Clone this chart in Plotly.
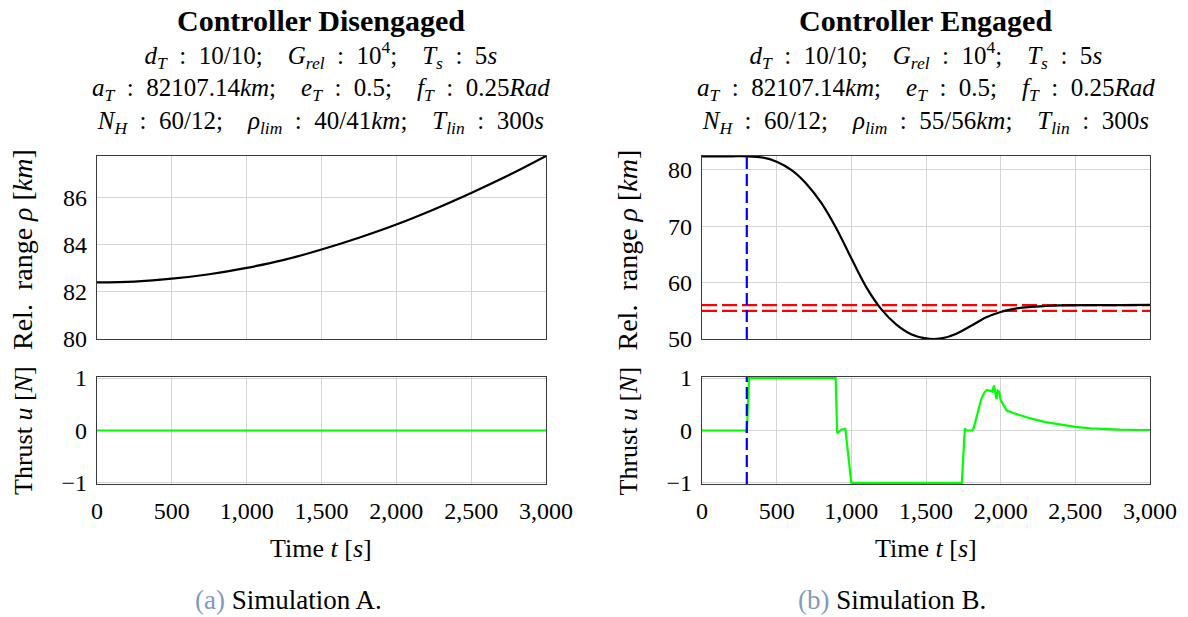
import plotly.graph_objects as go

# ---------------- data ----------------
t_lim = [0, 3000]
x_ticks = [0, 500, 1000, 1500, 2000, 2500, 3000]

# Simulation A (controller disengaged)
t_a = [0, 250, 500, 750, 1000, 1250, 1500, 1750, 2000, 2250, 2500, 2750, 3000]
rho_a = [82.40, 82.44, 82.56, 82.75, 83.02, 83.36, 83.80, 84.30, 84.86, 85.50, 86.20, 86.95, 87.77]
t_ua = [0, 3000]
u_a = [0.0, 0.0]

# Simulation B (controller engaged)
t_b = [0, 100, 200, 300, 400, 500, 600, 700, 800, 900, 1000, 1100, 1200, 1300, 1400,
       1500, 1600, 1700, 1800, 1900, 2000, 2100, 2200, 2300, 2400, 2600, 2800, 3000]
rho_b = [82.40, 82.40, 82.40, 82.40, 82.20, 81.45, 79.95, 77.50, 74.10, 69.60, 64.30,
         59.20, 55.30, 52.60, 50.85, 50.10, 50.10, 50.90, 52.30, 53.80, 54.80, 55.40,
         55.70, 55.85, 55.95, 56.00, 56.02, 56.05]
t_ub = [0, 290, 300, 315, 895, 905, 915, 925, 935, 960, 1000, 1740, 1760, 1770, 1810,
        1820, 1850, 1870, 1890, 1905, 1930, 1945, 1955, 1965, 1972, 1980, 1990, 2000,
        2020, 2040, 2100, 2200, 2300, 2400, 2500, 2600, 2700, 2800, 2900, 3000]
u_b = [0, 0, -0.04, 1, 1, -0.05, -0.03, 0.0, 0.02, 0.03, -1, -1, 0.04, 0.0, 0.0,
       0.05, 0.40, 0.60, 0.72, 0.77, 0.76, 0.74, 0.86, 0.70, 0.60, 0.76, 0.74, 0.58,
       0.48, 0.38, 0.32, 0.23, 0.16, 0.11, 0.07, 0.04, 0.025, 0.015, 0.01, 0.01]
t_lin_b = 300
rho_lim_b = [55, 56]

rho_range_a = [80, 87.77]
rho_range_b = [50, 82.45]
u_range = [-1.02, 1.02]
rho_ticks_a = [80, 82, 84, 86]
rho_ticks_b = [50, 60, 70, 80]
u_ticks = [-1, 0, 1]

# ---------------- style ----------------
W, H = 1188, 617
FONT = "Liberation Serif"
FS = 24
GRID = "#d4d4d4"
LINE = "#3a3a3a"
EN = "\u2002"
EM = "\u2003"


def px(x):
    return x / W


def py(y):
    return 1 - y / H


fig = go.Figure()

# A top
fig.add_trace(go.Scatter(x=t_a, y=rho_a, mode="lines", xaxis="x", yaxis="y",
                         line=dict(color="black", width=2.2, shape="spline")))
# A bottom
fig.add_trace(go.Scatter(x=t_ua, y=u_a, mode="lines", xaxis="x2", yaxis="y2",
                         line=dict(color="#00ff00", width=2.2)))
# B top
for lim in rho_lim_b:
    fig.add_trace(go.Scatter(x=t_lim, y=[lim, lim], mode="lines", xaxis="x3", yaxis="y3",
                             line=dict(color="#ff0000", width=2.2, dash="15px,5px")))
fig.add_trace(go.Scatter(x=t_b, y=rho_b, mode="lines", xaxis="x3", yaxis="y3",
                         line=dict(color="black", width=2.2, shape="spline", smoothing=0.9)))
fig.add_trace(go.Scatter(x=[t_lin_b, t_lin_b], y=rho_range_b, mode="lines", xaxis="x3", yaxis="y3",
                         line=dict(color="#0000ff", width=2.2, dash="12px,5px")))
# B bottom
fig.add_trace(go.Scatter(x=t_ub, y=u_b, mode="lines", xaxis="x4", yaxis="y4",
                         line=dict(color="#00ff00", width=2.2)))
fig.add_trace(go.Scatter(x=[t_lin_b, t_lin_b], y=u_range, mode="lines", xaxis="x4", yaxis="y4",
                         line=dict(color="#0000ff", width=2.2, dash="12px,5px")))

xa = [px(97), px(546)]
xb = [px(702), px(1150)]
ytop = [py(339), py(156)]
ybot = [py(484), py(377)]


def xaxis(domain, anchor, labels):
    return dict(domain=domain, anchor=anchor, range=t_lim, tickvals=x_ticks,
                tickformat=",", showticklabels=labels, showgrid=True, gridcolor=GRID,
                gridwidth=1, zeroline=False, showline=True, mirror=True, linecolor=LINE,
                linewidth=1.2, ticks="outside" if labels else "", ticklen=5,
                tickcolor="rgba(0,0,0,0)", automargin=False,
                tickfont=dict(family=FONT, size=FS, color="black"))


def yaxis(domain, anchor, rng, ticks):
    return dict(domain=domain, anchor=anchor, range=rng, tickvals=ticks, showgrid=True,
                gridcolor=GRID, gridwidth=1, zeroline=False, showline=True, mirror=True,
                linecolor=LINE, linewidth=1.2, ticks="outside", ticklen=4,
                tickcolor="rgba(0,0,0,0)", automargin=False,
                tickfont=dict(family=FONT, size=FS, color="black"))


layout = dict(
    width=W, height=H, margin=dict(l=0, r=0, t=0, b=0, autoexpand=False),
    paper_bgcolor="white", plot_bgcolor="white", showlegend=False,
    font=dict(family=FONT, size=FS, color="black"),
    xaxis=xaxis(xa, "y", False), yaxis=yaxis(ytop, "x", rho_range_a, rho_ticks_a),
    xaxis2=xaxis(xa, "y2", True), yaxis2=yaxis(ybot, "x2", u_range, u_ticks),
    xaxis3=xaxis(xb, "y3", False), yaxis3=yaxis(ytop, "x3", rho_range_b, rho_ticks_b),
    xaxis4=xaxis(xb, "y4", True), yaxis4=yaxis(ybot, "x4", u_range, u_ticks),
)
fig.update_layout(**layout)

ann = []


def text(x, y, s, size=FS, angle=0):
    ann.append(dict(x=px(x), y=py(y), xref="paper", yref="paper", text=s, showarrow=False,
                    xanchor="center", yanchor="middle", textangle=angle,
                    font=dict(family=FONT, size=size, color="black")))


C = EN + ":" + EN
S = ";" + EM
panels = [
    (321.5, 288.5, "Controller Disengaged", "40/41", "(a)", "Simulation A."),
    (926.0, 892.0, "Controller Engaged", "55/56", "(b)", "Simulation B."),
]
for cx, capx, title, lim, tag, cap in panels:
    text(cx, 21, "<b>" + title + "</b>", size=30)
    lines = [
        "<i>d</i><sub><i>T</i></sub>" + C + "10/10" + S + "<i>G</i><sub><i>rel</i></sub>" + C
        + "10<sup>4</sup>" + S + "<i>T</i><sub><i>s</i></sub>" + C + "5<i>s</i>",
        "<i>a</i><sub><i>T</i></sub>" + C + "82107.14<i>km</i>" + S + "<i>e</i><sub><i>T</i></sub>" + C
        + "0.5" + S + "<i>f</i><sub><i>T</i></sub>" + C + "0.25<i>Rad</i>",
        "<i>N</i><sub><i>H</i></sub>" + C + "60/12" + S + "<i>ρ</i><sub><i>lim</i></sub>" + C + lim
        + "<i>km</i>" + S + "<i>T</i><sub><i>lin</i></sub>" + C + "300<i>s</i>",
    ]
    text(cx, 87, "<br>".join(lines), size=25)
    left = cx - 224.5
    text(left - 74, 250, "Rel." + EN + "range <i>ρ</i> [<i>km</i>]", size=28, angle=-90)
    text(left - 74, 431, "Thrust <i>u</i> [<i>N</i>]", size=26, angle=-90)
    text(cx, 548, "Time <i>t</i> [<i>s</i>]", size=26)
    text(capx, 600, "<span style='color:#7f9cbc'>" + tag + "</span> " + cap, size=27)

fig.update_layout(annotations=ann)
fig.write_html("out.html", config={"displayModeBar": False},
               post_script="document.body.style.margin='0';")
